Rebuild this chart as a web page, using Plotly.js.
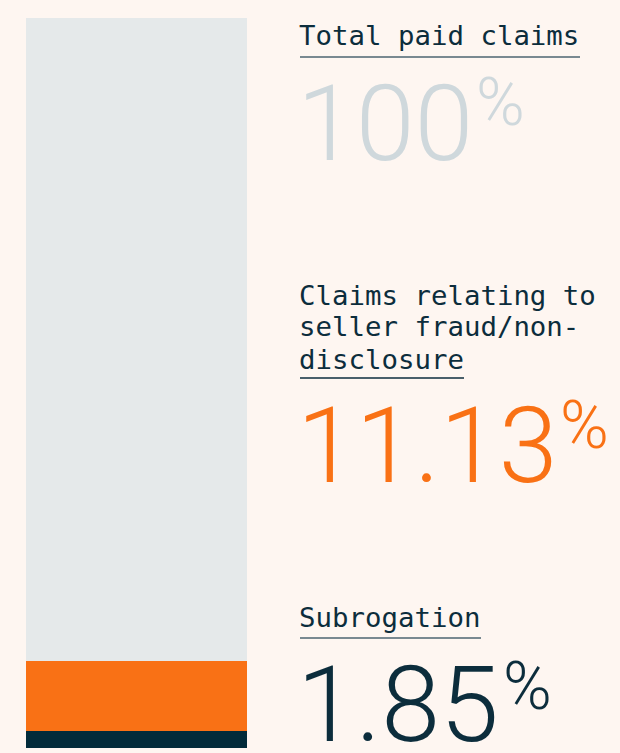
<!DOCTYPE html>
<html>
<head>
<meta charset="utf-8">
<script src="https://cdn.plot.ly/plotly-3.0.1.min.js"></script>
<style>
  html, body { margin: 0; padding: 0; background: #fef6f1; }
  #chart { width: 620px; height: 753px; }
</style>
</head>
<body>
<div id="chart"></div>
<script>
// ---- data ----
const categories = ['Total paid claims', 'Claims relating to seller fraud/non-disclosure', 'Subrogation'];
const titleLines = [['Total paid claims'], ['Claims relating to', 'seller fraud/non-', 'disclosure'], ['Subrogation']];
const percentLabels = ['100', '11.13', '1.85'];
// share of the bar height occupied by each segment (bottom to top)
const segmentNames = ['Subrogation', 'Claims relating to seller fraud/non-disclosure', 'Total paid claims'];
const segmentValues = [2.3, 9.6, 88.1];
const segmentColors = ['#022b3a', '#f97115', '#e5e9ea'];
const numberColors = ['#cfd8dc', '#f97115', '#0c2d3c'];

const W = 620, H = 753;
const px = x => x / W;
const py = y => (H - y) / H;

const traces = segmentValues.map((v, i) => ({
  type: 'bar',
  x: ['bar'],
  y: [v],
  name: segmentNames[i],
  width: 1,
  marker: { color: segmentColors[i], line: { width: 0 } },
  hoverinfo: 'skip'
}));

const monoFont = { family: 'DejaVu Sans Mono, monospace', size: 27.4, color: '#0c2d3c' };
const numFont = (c, s) => ({ family: 'Roboto, sans-serif', size: s, color: c, weight: 300 });

// layout positions of the text blocks (pixel y of title line centres, number centre, percent centre)
const blocks = [
  { titleY: [36], ul: { x1: 580, y: 57, c: '#4d6570' }, numY: 124, pctX: 475, pctY: 103 },
  { titleY: [295, 327, 359], ul: { x1: 464, y: 378, c: '#0c2d3c' }, numY: 446, pctX: 559, pctY: 426 },
  { titleY: [617], ul: { x1: 481, y: 638, c: '#4d6570' }, numY: 705, pctX: 502, pctY: 686 }
];

const annotations = [];
const shapes = [];
blocks.forEach((b, i) => {
  titleLines[i].forEach((t, j) => {
    annotations.push({ xref: 'paper', yref: 'paper', x: px(298), y: py(b.titleY[j]),
      xanchor: 'left', yanchor: 'middle', text: t, showarrow: false, font: monoFont, borderpad: 0 });
  });
  annotations.push({ xref: 'paper', yref: 'paper', x: px(296), y: py(b.numY),
    xanchor: 'left', yanchor: 'middle', text: percentLabels[i], showarrow: false,
    font: numFont(numberColors[i], 106), borderpad: 0 });
  annotations.push({ xref: 'paper', yref: 'paper', x: px(b.pctX), y: py(b.pctY),
    xanchor: 'left', yanchor: 'middle', text: '%', showarrow: false,
    font: numFont(numberColors[i], 66), borderpad: 0 });
  shapes.push({ type: 'line', xref: 'paper', yref: 'paper', x0: px(300), x1: px(b.ul.x1),
    y0: py(b.ul.y), y1: py(b.ul.y), line: { color: b.ul.c, width: 1.5 } });
});

const layout = {
  width: W, height: H,
  margin: { l: 0, r: 0, t: 0, b: 0 },
  paper_bgcolor: '#fef6f1',
  plot_bgcolor: 'rgba(0,0,0,0)',
  barmode: 'stack',
  showlegend: false,
  xaxis: { domain: [px(26), px(247)], range: [-0.5, 0.5], visible: false, fixedrange: true },
  yaxis: { domain: [py(748), py(18)], range: [0, 100], visible: false, fixedrange: true },
  annotations: annotations,
  shapes: shapes
};

Plotly.newPlot('chart', traces, layout, { displayModeBar: false, staticPlot: true });
</script>
</body>
</html>
